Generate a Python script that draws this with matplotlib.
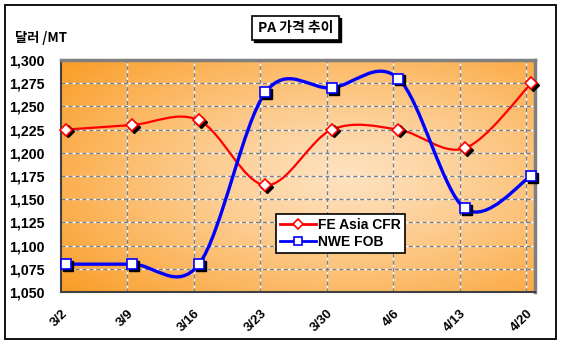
import numpy as np
import matplotlib
matplotlib.use("Agg")
import matplotlib.pyplot as plt
from matplotlib.path import Path
from matplotlib.patches import PathPatch, Rectangle
from matplotlib.lines import Line2D
import matplotlib.transforms as mtransforms
from matplotlib.ticker import FuncFormatter

# data
dates = ["3/2", "3/9", "3/16", "3/23", "3/30", "4/6", "4/13", "4/20"]
fe_asia_cfr = [1225, 1230, 1235, 1165, 1225, 1225, 1205, 1275]
nwe_fob = [1080, 1080, 1080, 1265, 1270, 1280, 1140, 1175]
y_ticks = list(range(1050, 1301, 25))

W, H = 561, 347
fig = plt.figure(figsize=(W / 100, H / 100), dpi=100)
fig.patch.set_facecolor("white")

num_font = "Liberation Sans"
kr_font = ["Noto Sans CJK KR", "DejaVu Sans"]


def px(x0, y0, x1, y1):
    # pixel box (top-left origin) -> figure fraction rect
    return [x0 / W, 1 - y1 / H, (x1 - x0) / W, (y1 - y0) / H]


ax = fig.add_axes(px(61, 60, 535, 292))

# orange radial background
gy, gx = np.mgrid[0:1:200j, 0:1:300j]
d = np.sqrt(((gx - 0.6) / 0.8) ** 2 + ((gy - 0.5) / 0.8) ** 2)
d = np.clip(d, 0, 1) ** 1.2
c_in = np.array([254, 226, 192]) / 255
c_out = np.array([250, 154, 32]) / 255
img = c_in[None, None, :] * (1 - d[..., None]) + c_out[None, None, :] * d[..., None]
ax.imshow(img, extent=(0, 1, 0, 1), transform=ax.transAxes, aspect="auto",
          zorder=0, origin="lower")

offset = 0.075
xs = np.arange(len(dates)) + offset
ax.set_xlim(0, 7.13)
ax.set_ylim(1050, 1300)


def smooth_path(x, y):
    # Excel-like smoothed line: cubic Bezier with Catmull-Rom control points
    pts = np.column_stack([x, y]).astype(float)
    n = len(pts)
    verts = [pts[0]]
    codes = [Path.MOVETO]
    for i in range(n - 1):
        p0 = pts[max(i - 1, 0)]
        p1 = pts[i]
        p2 = pts[i + 1]
        p3 = pts[min(i + 2, n - 1)]
        c1 = p1 + (p2 - p0) / 6
        c2 = p2 - (p3 - p1) / 6
        verts += [c1, c2, p2]
        codes += [Path.CURVE4] * 3
    return Path(verts, codes)


# gridlines
for v in y_ticks[1:-1]:
    ax.axhline(v, color="white", lw=1, zorder=1)
    ax.axhline(v, color="#808080", lw=1, ls=(0, (3, 2)), zorder=1.1)
for i in range(1, len(dates)):
    ax.axvline(i, color="white", lw=1, zorder=1)
    ax.axvline(i, color="#808080", lw=1, ls=(0, (3, 2)), zorder=1.1)

shadow_tr = mtransforms.offset_copy(ax.transData, fig=fig, x=1.8, y=-1.8, units="dots")

series = [
    (fe_asia_cfr, "red", "D", 6.5, 1.6, "FE Asia CFR"),
    (nwe_fob, "blue", "s", 7, 2.4, "NWE FOB"),
]
for vals, col, mk, ms, lw, lab in series:
    ax.add_patch(PathPatch(smooth_path(xs, vals), fill=False, edgecolor=col,
                           lw=lw, zorder=3, capstyle="round", joinstyle="round"))
    ax.plot(xs, vals, ls="none", marker=mk, ms=ms, color="black",
            transform=shadow_tr, zorder=4, clip_on=False)
    ax.plot(xs, vals, ls="none", marker=mk, ms=ms, mfc="white", mec=col,
            mew=1.2, zorder=5, clip_on=False)

for side in ["top", "right"]:
    ax.spines[side].set_color("#808080")
    ax.spines[side].set_linewidth(2.5)
for side in ["left", "bottom"]:
    ax.spines[side].set_color("#404040")
    ax.spines[side].set_linewidth(1.5)

ax.set_yticks(y_ticks)
ax.yaxis.set_major_formatter(FuncFormatter(lambda v, p: f"{int(v):,}"))
ax.set_xticks(range(len(dates)))
ax.set_xticklabels(dates)
ax.tick_params(axis="both", length=0)
ax.tick_params(axis="y", pad=12)
for t in ax.get_yticklabels():
    t.set_fontfamily(num_font)
    t.set_fontweight("bold")
    t.set_fontsize(10.2)
shift = mtransforms.ScaledTranslation(-11 / 100, 0, fig.dpi_scale_trans)
for t in ax.get_xticklabels():
    t.set_fontfamily(num_font)
    t.set_fontweight("bold")
    t.set_fontsize(9.5)
    t.set_rotation(45)
    t.set_ha("right")
    t.set_va("top")
    t.set_rotation_mode("anchor")
    t.set_transform(t.get_transform() + shift)
ax.tick_params(axis="x", pad=11)

# legend
handles = [Line2D([], [], color=col, lw=2, marker=mk, ms=ms - 1,
                  mfc="white", mec=col, mew=1.2, label=lab)
           for vals, col, mk, ms, lw, lab in series]
leg = fig.legend(handles=handles, loc="upper left",
                 bbox_to_anchor=(276 / W, 1 - 214 / H), frameon=True,
                 fancybox=False, framealpha=1, edgecolor="black",
                 prop={"family": num_font, "weight": "bold", "size": 10},
                 handlelength=2.6, handletextpad=0.15, borderpad=0.3,
                 labelspacing=0.2, borderaxespad=0)
leg.get_frame().set_linewidth(1.2)

# y unit label
fig.text(15 / W, 1 - 38 / H, "달러 /MT", family=kr_font, weight="bold",
         fontsize=9.5, ha="left", va="center")

# title box with shadow
fig.patches.append(Rectangle((px(254, 18, 341, 42)[0], px(254, 18, 341, 42)[1]),
                             87 / W, 24 / H, transform=fig.transFigure,
                             facecolor="black", edgecolor="black", zorder=1))
fig.patches.append(Rectangle((px(252, 16, 339, 40)[0], px(252, 16, 339, 40)[1]),
                             87 / W, 24 / H, transform=fig.transFigure,
                             facecolor="white", edgecolor="black", lw=1.2, zorder=2))
fig.text(295.5 / W, 1 - 28 / H, "PA 가격 추이", family=kr_font, weight="bold",
         fontsize=10, ha="center", va="center", zorder=3)

# outer border
fig.patches.append(Rectangle((4.5 / W, 1 - 338.5 / H), 551 / W, 334 / H,
                             transform=fig.transFigure, fill=False,
                             edgecolor="black", lw=1.3, zorder=0))

fig.savefig("out.png", dpi=100)
